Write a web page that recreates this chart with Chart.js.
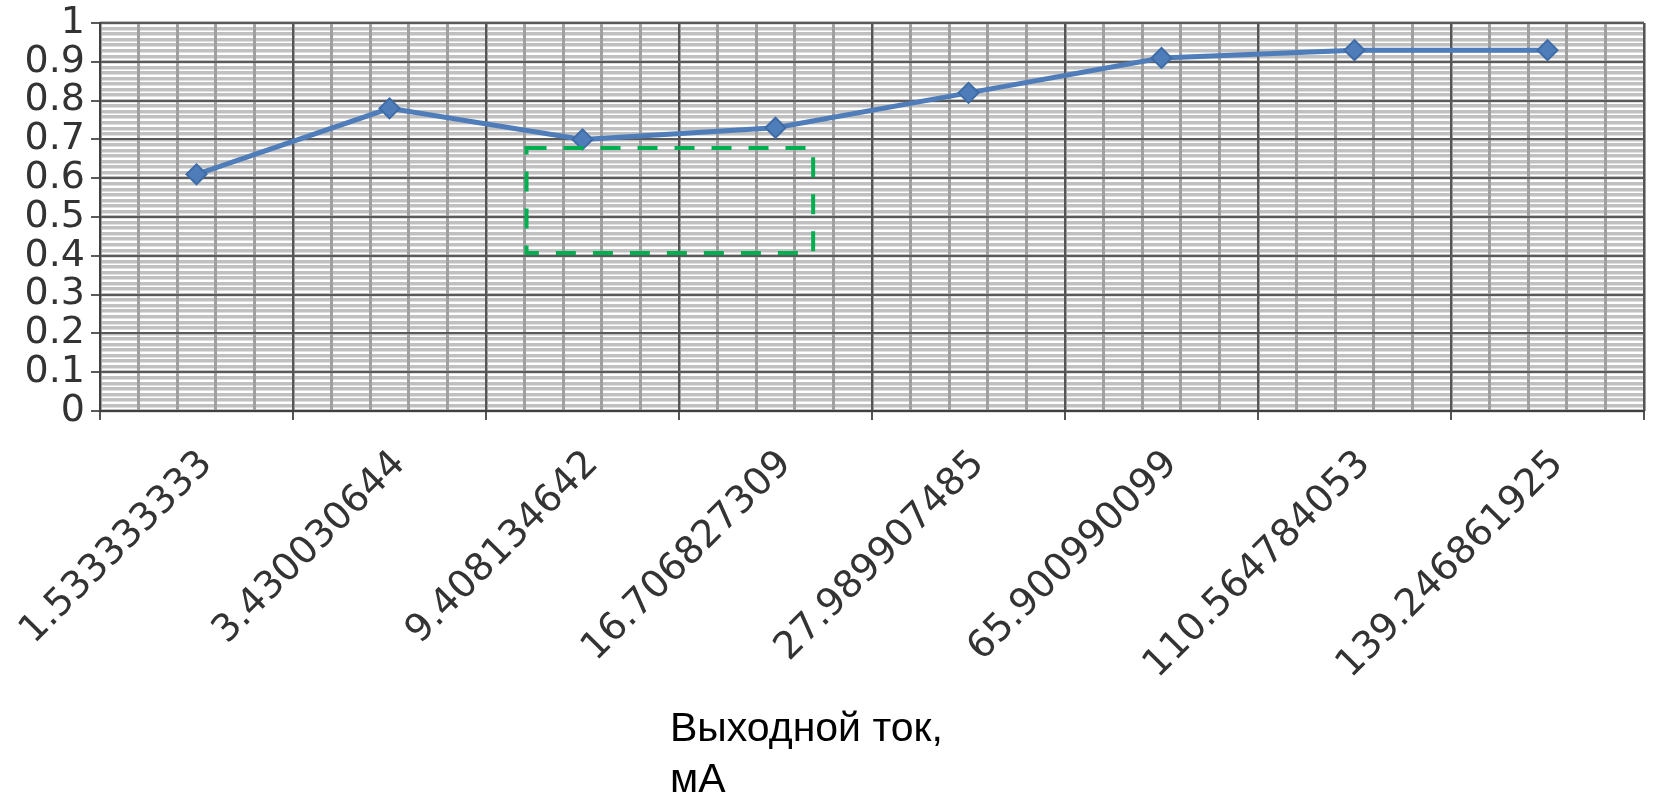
<!DOCTYPE html>
<html>
<head>
<meta charset="utf-8">
<title>Выходной ток</title>
<script src="https://cdn.jsdelivr.net/npm/chart.js"></script>
<style>
  html, body { margin: 0; padding: 0; background: #ffffff; }
  #chartBox { width: 1656px; height: 795px; }
</style>
</head>
<body>
<div id="chartBox"><canvas id="lineChart1" width="1656" height="795"></canvas></div>
<script>
// ---------------------------
// Data
// ---------------------------
let currentLabels = ["1.533333333", "3.430030644", "9.408134642", "16.706827309",
                     "27.989907485", "65.900990099", "110.564784053", "139.246861925"];
let efficiency = [0.61, 0.78, 0.70, 0.73, 0.82, 0.91, 0.93, 0.93];
let yTicks = [0, 0.1, 0.2, 0.3, 0.4, 0.5, 0.6, 0.7, 0.8, 0.9, 1];
let yTickLabels = ["0", "0.1", "0.2", "0.3", "0.4", "0.5", "0.6", "0.7", "0.8", "0.9", "1"];
let axisCaption = ["Выходной ток,", "мА"];
// green dashed box, in category index / value units
let boxX = [1.71, 3.195];
let boxY = [0.407, 0.678];

// -------------------------------
// Extra drawing: box and caption
// -------------------------------
const extras = {
    id: 'extras',
    afterDatasetsDraw(chart) {
        let ctx = chart.ctx;
        let xs = chart.scales.x;
        let ys = chart.scales.y;
        let l = xs.getPixelForValue(boxX[0]);
        let r = xs.getPixelForValue(boxX[1]);
        let t = ys.getPixelForValue(boxY[1]);
        let b = ys.getPixelForValue(boxY[0]);
        ctx.save();
        ctx.strokeStyle = '#00b050';
        ctx.lineWidth = 4;
        ctx.setLineDash([20, 17]);
        ctx.strokeRect(l, t, r - l, b - t);
        ctx.restore();
    },
    afterDraw(chart) {
        let ctx = chart.ctx;
        ctx.save();
        ctx.font = '41px "Liberation Sans", Arial, sans-serif';
        ctx.fillStyle = '#000000';
        ctx.textAlign = 'left';
        ctx.textBaseline = 'alphabetic';
        for (let i = 0; i < axisCaption.length; i++) {
            ctx.fillText(axisCaption[i], 670, 741 + i * 51);
        }
        ctx.restore();
    }
};

let tickFont = { family: '"DejaVu Sans", sans-serif', size: 38 };

let ctx = document.getElementById('lineChart1').getContext('2d');
let myChart = new Chart(ctx, {
    type: 'line',
    data: {
        labels: currentLabels,
        datasets: [{
            label: 'КПД',
            data: efficiency,
            borderColor: '#4e7dba',
            borderWidth: 5,
            backgroundColor: '#4e7dba',
            pointStyle: 'rectRot',
            pointRadius: 10,
            pointHoverRadius: 10,
            pointBackgroundColor: '#4e7dba',
            pointBorderColor: '#3f6ca6',
            pointBorderWidth: 2,
            tension: 0,
            xAxisID: 'x',
            yAxisID: 'y'
        }]
    },
    options: {
        responsive: false,
        animation: false,
        devicePixelRatio: 1,
        layout: { padding: { top: 23, right: 3, left: 0, bottom: 0 } },
        plugins: {
            legend: { display: false },
            tooltip: { enabled: false }
        },
        scales: {
            x: {
                type: 'category',
                position: 'bottom',
                offset: true,
                grid: {
                    offset: true,
                    color: '#555555',
                    lineWidth: 2,
                    drawTicks: true,
                    tickLength: 9,
                    z: -1
                },
                border: { display: true, color: '#404040', width: 2 },
                ticks: {
                    font: tickFont,
                    color: '#333333',
                    minRotation: 45,
                    maxRotation: 45,
                    autoSkip: false,
                    labelOffset: 10,
                    padding: 22
                },
                afterFit: function (scale) {
                    scale.height = 384;
                    scale.paddingLeft = 0;
                    scale.paddingRight = 0;
                }
            },
            y: {
                type: 'linear',
                position: 'left',
                min: 0,
                max: 1,
                afterBuildTicks: function (scale) {
                    scale.ticks = yTicks.map(function (v) { return { value: v }; });
                },
                grid: {
                    color: '#5a5a5a',
                    lineWidth: 2,
                    drawTicks: true,
                    tickLength: 9,
                    z: -2
                },
                border: { display: true, color: '#404040', width: 2 },
                ticks: {
                    font: tickFont,
                    color: '#333333',
                    padding: 6,
                    autoSkip: false,
                    callback: function (value, index) { return yTickLabels[index]; }
                },
                afterFit: function (scale) {
                    scale.width = 100;
                    scale.paddingTop = 0;
                    scale.paddingBottom = 0;
                }
            },
            // minor vertical lines (5 per category)
            xMinor: {
                type: 'linear',
                position: 'top',
                min: 0,
                max: 8,
                ticks: { display: false, stepSize: 0.2 },
                grid: { color: '#a0a0a0', lineWidth: 3, drawTicks: false, z: -3 },
                border: { display: false },
                afterFit: function (scale) { scale.height = 0; }
            },
            // minor horizontal lines
            yMinor: {
                type: 'linear',
                position: 'right',
                min: 0,
                max: 1,
                ticks: { display: false, stepSize: 1 / 70 },
                grid: { color: '#c0c0c0', lineWidth: 3.5, drawTicks: false, z: -4 },
                border: { display: false },
                afterFit: function (scale) { scale.width = 0; }
            }
        }
    },
    plugins: [extras]
});
</script>
</body>
</html>
